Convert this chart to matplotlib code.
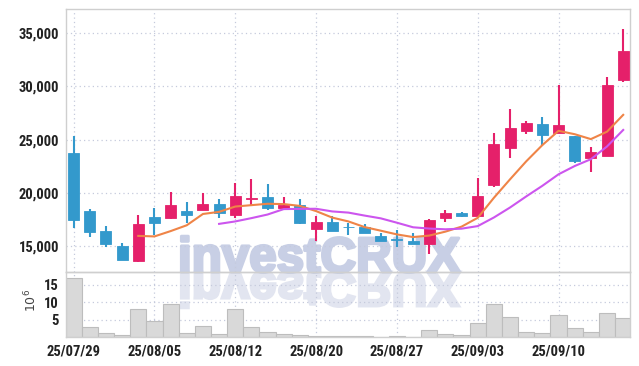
import numpy as np
import matplotlib
matplotlib.use("Agg")
import matplotlib.pyplot as plt
from matplotlib import font_manager
from matplotlib import patheffects
from matplotlib.textpath import TextPath
from matplotlib.patches import PathPatch
from matplotlib.font_manager import FontProperties
from matplotlib.transforms import Affine2D

# daily candles, 25/07/29 .. 25/09/16
dates = ["25/07/29", "25/07/30", "25/07/31", "25/08/01", "25/08/04",
         "25/08/05", "25/08/06", "25/08/07", "25/08/08", "25/08/11",
         "25/08/12", "25/08/13", "25/08/14", "25/08/18", "25/08/19",
         "25/08/20", "25/08/21", "25/08/22", "25/08/25", "25/08/26",
         "25/08/27", "25/08/28", "25/08/29", "25/09/01", "25/09/02",
         "25/09/03", "25/09/04", "25/09/05", "25/09/08", "25/09/09",
         "25/09/10", "25/09/11", "25/09/12", "25/09/15", "25/09/16"]
opens = [23720, 18300, 16420, 15010, 13600, 17730, 17670, 18320, 18390, 18950,
         17920, 19450, 19640, 18610, 18860, 16630, 17290, 16800, 16760, 15950,
         15620, 15480, 15190, 17610, 18080, 17830, 20740, 24250, 25840, 26470,
         25600, 25350, 23250, 23490, 30610]
highs = [25350, 18460, 16910, 15260, 17920, 18550, 20050, 19110, 19960, 19400,
         20960, 21280, 20810, 19640, 19420, 17830, 17850, 17140, 17070, 16260,
         16510, 16200, 17540, 18390, 18200, 21370, 25600, 27880, 26780, 27100,
         30140, 25350, 24340, 30860, 35430]
lows = [16670, 15820, 14940, 13690, 13530, 16040, 17520, 17140, 18390, 17610,
        17610, 18860, 18390, 18610, 17050, 15450, 16440, 16040, 16200, 15500,
        14940, 15190, 14250, 17290, 17700, 17830, 20520, 23250, 25530, 24410,
        25600, 22780, 21990, 23490, 30450]
closes = [17450, 16350, 15190, 13690, 17070, 17200, 18860, 17920, 18980, 18080,
          19710, 19500, 18580, 18860, 17200, 17290, 16440, 16750, 16200, 15500,
          15540, 15190, 17450, 18080, 17830, 19710, 24590, 26130, 26570, 25470,
          26380, 23000, 23810, 30110, 33340]
ma5 = [np.nan] * 4 + [15950, 15900, 16400, 16950, 18010, 18210, 18710, 18840,
                      18970, 18940, 18770, 18280, 17670, 17310, 16780, 16440,
                      16090, 15840, 15980, 16350, 16820, 17650, 19530, 21270,
                      22960, 24490, 25830, 25510, 25050, 25750, 27330]
ma10 = [np.nan] * 9 + [17080, 17310, 17620, 17960, 18470, 18490, 18500, 18250,
                       18140, 17860, 17600, 17190, 16760, 16640, 16570, 16630,
                       16870, 17680, 18620, 19660, 20660, 21740, 22520, 23160,
                       24360, 25910]
# volume in millions of shares
volume = [16.9, 3.1, 1.4, 0.6, 8.0, 4.6, 9.4, 1.4, 3.4, 0.9,
          8.0, 3.1, 1.7, 0.9, 0.6, 0.5, 0.4, 0.4, 0.4, 0.1,
          0.4, 0.1, 2.0, 1.1, 0.6, 4.0, 9.4, 5.7, 1.7, 1.4,
          6.3, 2.6, 1.7, 6.9, 5.4]

UP = "#e5206a"
DOWN = "#3399cc"
GRID = "#c5cadc"
SPINE = "#cfcfcf"
WM = "#c8cfe5"
WM_REFL = "#e2e5f0"
WM_SIZE = 35.5


def find_face(prefs, size, fallback):
    # first installed bold face among the preferred families
    fonts = font_manager.fontManager.ttflist
    for name, need_condensed in prefs:
        for f in fonts:
            if f.name != name or f.weight not in ("bold", 700):
                continue
            if "Italic" in f.fname or "Oblique" in f.fname:
                continue
            if need_condensed and "condensed" not in str(f.stretch):
                continue
            return FontProperties(fname=f.fname, size=size)
    return FontProperties(family=fallback, weight="bold", size=size)


tick_fp = find_face([("Liberation Sans Narrow", False),
                     ("Roboto Condensed", False),
                     ("DejaVu Sans", True)], 10.5, "Roboto")
wm_font = find_face([("Liberation Sans", False), ("Noto Sans", False)],
                    WM_SIZE, "DejaVu Sans")

fig = plt.figure(figsize=(6.39, 3.66), dpi=100)
fig.patch.set_facecolor("white")
ax = fig.add_axes([0.1033, 0.2577, 0.8826, 0.7169])
axv = fig.add_axes([0.1033, 0.0779, 0.8826, 0.1798], sharex=ax)
for a in (ax, axv):
    a.set_facecolor("none")
    for s in a.spines.values():
        s.set_color(SPINE)
        s.set_linewidth(1.0)
    a.grid(True, linestyle=(0, (1, 2.5)), color=GRID, linewidth=0.9)
    a.set_axisbelow(True)
    a.tick_params(length=0, colors="#222222")

x = np.arange(len(dates))
o = np.array(opens, dtype=float)
c = np.array(closes, dtype=float)
colors = [UP if cc >= oo else DOWN for oo, cc in zip(o, c)]
ax.vlines(x, lows, highs, colors=colors, linewidth=1.5, zorder=2)
body_bottom = np.minimum(o, c)
body_h = np.maximum(np.abs(c - o), 60)
ax.bar(x, body_h, bottom=body_bottom, width=0.68, color=colors,
       edgecolor=colors, linewidth=0.6, zorder=3)
ax.plot(x, ma5, color="#ef8447", linewidth=1.5, zorder=4)
ax.plot(x, ma10, color="#cc55ee", linewidth=1.5, zorder=4)

price_ticks = [15000, 20000, 25000, 30000, 35000]
ax.set_ylim(12585, 37255)
ax.set_yticks(price_ticks)
ax.set_yticklabels([f"{v:,}" for v in price_ticks])
ax.tick_params(axis="y", pad=5)
ax.tick_params(axis="x", labelbottom=False)

axv.bar(x, volume, width=1.0, color="#d9d9d9", edgecolor="#bdbdbd",
        linewidth=0.8, zorder=2)
axv.set_ylim(0, 18.7)
axv.set_yticks([5, 10, 15])
axv.set_yticklabels(["5", "10", "15"])
axv.tick_params(axis="y", pad=5)
tick_idx = [0, 5, 10, 15, 20, 25, 30]
axv.set_xticks(tick_idx)
axv.set_xticklabels([dates[i] for i in tick_idx])
axv.tick_params(axis="x", pad=5)
axv.set_xlim(-0.47, 34.42)
for lab in ax.get_yticklabels() + axv.get_yticklabels() + axv.get_xticklabels():
    lab.set_fontproperties(tick_fp)
fig.text(31 / 639, 1 - 300 / 366, r"$10^6$", rotation=90, ha="center",
         va="center", fontsize=9, color="#444444")

# watermark (heavy) with its mirrored reflection under the baseline
x0, y0 = 178 / 100, (366 - 272) / 100
fig.text(178 / 639, (366 - 272) / 366, "investCRUX", fontproperties=wm_font,
         color=WM, ha="left", va="baseline", zorder=-1,
         path_effects=[patheffects.withStroke(linewidth=2.2, foreground=WM)])
tp = TextPath((0, 0), "investCRUX", prop=wm_font, size=WM_SIZE)
refl = PathPatch(tp, transform=Affine2D().scale(1 / 72, -1 / 72).translate(x0, y0)
                 + fig.dpi_scale_trans, facecolor=WM_REFL, edgecolor=WM_REFL,
                 linewidth=2.2, zorder=-1)
fig.add_artist(refl)

fig.savefig("out.png", dpi=100)
